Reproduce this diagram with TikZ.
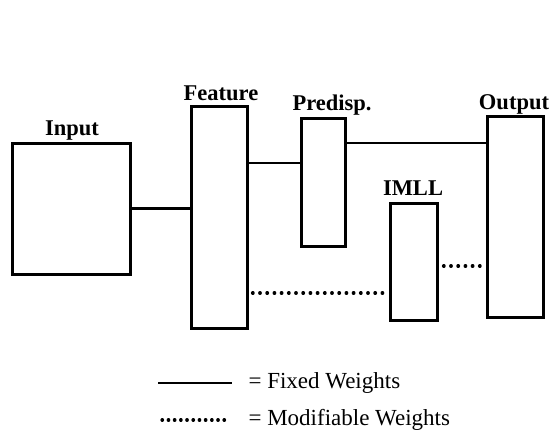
\documentclass[tikz,border=0pt]{standalone}
\usepackage{fontspec}
\setmainfont{Liberation Serif}
\begin{document}
\begin{tikzpicture}[x=1pt, y=-1pt,
    layer/.style={draw, line width=3pt, inner sep=0pt, fill=white},
    lbl/.style={anchor=base, font=\fontsize{22.5}{24}\selectfont\bfseries},
    legtxt/.style={anchor=base west, font=\fontsize{23}{25}\selectfont},
    fixed/.style={line width=2.4pt},
    modif/.style={line width=3.2pt, line cap=round, dash pattern=on 0.6pt off 6.6pt}]
\useasboundingbox (0,0) rectangle (551,436);
    % Schichten
    \node[layer, minimum width=118pt, minimum height=131pt] (input) at (71,208.5) {};
    \node[layer, minimum width=56pt, minimum height=222pt] (feature) at (219,217) {};
    \node[layer, minimum width=44pt, minimum height=128pt] (predisp) at (323,182) {};
    \node[layer, minimum width=47pt, minimum height=117pt] (imll) at (413.5,261.5) {};
    \node[layer, minimum width=56pt, minimum height=201pt] (output) at (515,216.5) {};
    
    % Beschriftungen
    \node[lbl] (inputlbl) at (72,135) {Input};
    \node[lbl] (featurelbl) at (221,100) {Feature};
    \node[lbl] (predisplbl) at (332,110) {Predisp.};
    \node[lbl] (imlllbl) at (413,195) {IMLL};
    \node[lbl] (outputlbl) at (514,109) {Output};
    
    % Verbindungen
    \draw[fixed] (input.east) -- (feature.west |- input.east);
    \draw[fixed] (feature.east |- 0,163) -- (predisp.west |- 0,163);
    \draw[fixed] (predisp.east |- 0,143) -- (output.west |- 0,143);
    \draw[modif] (feature.east |- 0,293) ++(4,0) -- (imll.west |- 0,293);
    \draw[modif] (imll.east |- 0,266) ++(5,0) -- (output.west |- 0,266);
    
    % Legende
    \coordinate (fixa) at (158,383);
    \coordinate (fixb) at (232,383);
    \coordinate (moda) at (162,420);
    \coordinate (modb) at (230,420);
    \draw[fixed] (fixa) -- (fixb);
    \draw[modif, dash pattern=on 0.5pt off 5.7pt] (moda) -- (modb);
    \node[legtxt] (fixtxt) at (245,388.5) {= Fixed Weights};
    \node[legtxt] (modtxt) at (245,425.5) {= Modifiable Weights};
\end{tikzpicture}
\end{document}
